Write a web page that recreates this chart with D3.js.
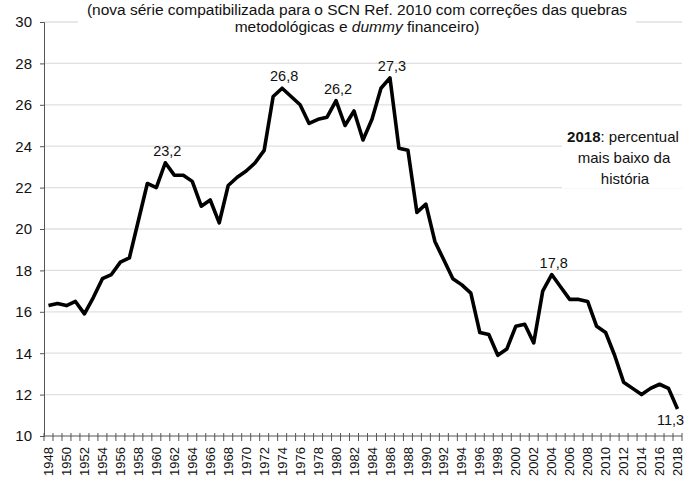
<!DOCTYPE html>
<html>
<head>
<meta charset="utf-8">
<script src="https://cdn.jsdelivr.net/npm/d3@7"></script>
<style>
  body { margin: 0; background: #fff; }
  text { font-family: "Liberation Sans", Arial, sans-serif; fill: #111; }
</style>
</head>
<body>
<div id="chart-area"></div>
<script>

// Data (percent per year)
var years = d3.range(1948, 2019);
var values = [
	16.3, 16.4, 16.3, 16.5, 15.9, 16.7, 17.6, 17.8, 18.4, 18.6,
	20.4, 22.2, 22.0, 23.2, 22.6, 22.6, 22.3, 21.1, 21.4, 20.3,
	22.1, 22.5, 22.8, 23.2, 23.8, 26.4, 26.8, 26.4, 26.0, 25.1,
	25.3, 25.4, 26.2, 25.0, 25.7, 24.3, 25.3, 26.8, 27.3, 23.9,
	23.8, 20.8, 21.2, 19.4, 18.5, 17.6, 17.3, 16.9, 15.0, 14.9,
	13.9, 14.2, 15.3, 15.4, 14.5, 17.0, 17.8, 17.2, 16.6, 16.6,
	16.5, 15.3, 15.0, 13.9, 12.6, 12.3, 12.0, 12.3, 12.5, 12.3,
	11.3
];
var yTicks = [10, 12, 14, 16, 18, 20, 22, 24, 26, 28, 30];
var labelYears = [1961, 1974, 1980, 1986, 2004, 2018];

var titleLine1 = "(nova série compatibilizada para o SCN Ref. 2010 com correções das quebras";
var noteLines = ["percentual", "mais baixo da", "história"];

var data = years.map(function(y, i) { return { year: y, value: values[i] }; });

// SVG Size
var width = 697,
		height = 482;

var svg = d3.select("#chart-area").append("svg")
		.attr("width", width)
		.attr("height", height);

// Scales
var x = d3.scaleBand()
	.domain(years)
	.range([44, 682]);

var y = d3.scaleLinear()
	.domain([10, 30])
	.range([436, 22]);

function cx(yr) { return x(yr) + x.bandwidth() / 2; }

// Gridlines
svg.append("g")
	.selectAll("line")
	.data(yTicks.slice(1))
	.enter()
	.append("line")
	.attr("x1", 44)
	.attr("x2", 682)
	.attr("y1", function(d){ return y(d); })
	.attr("y2", function(d){ return y(d); })
	.attr("stroke", "#e0e0e0")
	.attr("stroke-width", 1.3);

// Y axis
var yAxis = svg.append("g")
	.attr("transform", "translate(44,0)")
	.call(d3.axisLeft(y).tickValues(yTicks).tickSize(4).tickPadding(8).tickFormat(d3.format("d")));
yAxis.select(".domain").attr("stroke", "#555");
yAxis.selectAll(".tick line").attr("stroke", "#555");
yAxis.selectAll("text").style("font-size", "15px").attr("fill", "#111");

// X axis (ticks between categories)
svg.append("line")
	.attr("x1", 44).attr("x2", 682)
	.attr("y1", y(10)).attr("y2", y(10))
	.attr("stroke", "#555");

svg.append("g")
	.selectAll("line")
	.data(years.concat([2019]))
	.enter()
	.append("line")
	.attr("x1", function(d){ return d === 2019 ? 682 : x(d); })
	.attr("x2", function(d){ return d === 2019 ? 682 : x(d); })
	.attr("y1", y(10) - 3)
	.attr("y2", y(10) + 5)
	.attr("stroke", "#555");

svg.append("g")
	.selectAll("text")
	.data(years.filter(function(d){ return d % 2 === 0; }))
	.enter()
	.append("text")
	.attr("transform", function(d){ return "translate(" + (cx(d) + 4.6) + "," + (y(10) + 11) + ") rotate(-90)"; })
	.attr("text-anchor", "end")
	.style("font-size", "13px")
	.text(function(d){ return d; });

// Line
var line = d3.line()
	.x(function(d){ return cx(d.year); })
	.y(function(d){ return y(d.value); });

svg.append("path")
	.datum(data)
	.attr("d", line)
	.attr("fill", "none")
	.attr("stroke", "#000")
	.attr("stroke-width", 3.6)
	.attr("stroke-linejoin", "round");

// Data labels
var fmt = function(v){ return d3.format(".1f")(v).replace(".", ","); };
svg.append("g")
	.selectAll("text")
	.data(data.filter(function(d){ return labelYears.indexOf(d.year) >= 0; }))
	.enter()
	.append("text")
	.attr("x", function(d){ return cx(d.year) + (d.year === 2018 ? -7 : 2); })
	.attr("y", function(d){ return y(d.value) + (d.year === 2018 ? 16 : -7); })
	.attr("text-anchor", "middle")
	.style("font-size", "14.5px")
	.text(function(d){ return fmt(d.value); });

// Title (white box behind it)
svg.append("rect")
	.attr("x", 78).attr("y", 0)
	.attr("width", 558).attr("height", 38)
	.attr("fill", "#fff");

svg.append("text")
	.attr("x", 357).attr("y", 15)
	.attr("text-anchor", "middle")
	.style("font-size", "15.5px")
	.text(titleLine1);

var t2 = svg.append("text")
	.attr("x", 357).attr("y", 32)
	.attr("text-anchor", "middle")
	.style("font-size", "15.5px");
t2.append("tspan").text("metodológicas e ");
t2.append("tspan").style("font-style", "italic").text("dummy");
t2.append("tspan").text(" financeiro)");

// Note box
svg.append("rect")
	.attr("x", 562).attr("y", 124)
	.attr("width", 122).attr("height", 64)
	.attr("fill", "#fff");

var note = svg.append("text")
	.attr("text-anchor", "middle")
	.style("font-size", "15px");
var n1 = note.append("tspan").attr("x", 623).attr("y", 142);
n1.append("tspan").style("font-weight", "bold").text("2018");
n1.append("tspan").text(": " + noteLines[0]);
note.append("tspan").attr("x", 624).attr("y", 163).text(noteLines[1]);
note.append("tspan").attr("x", 625).attr("y", 184).text(noteLines[2]);

</script>
</body>
</html>
